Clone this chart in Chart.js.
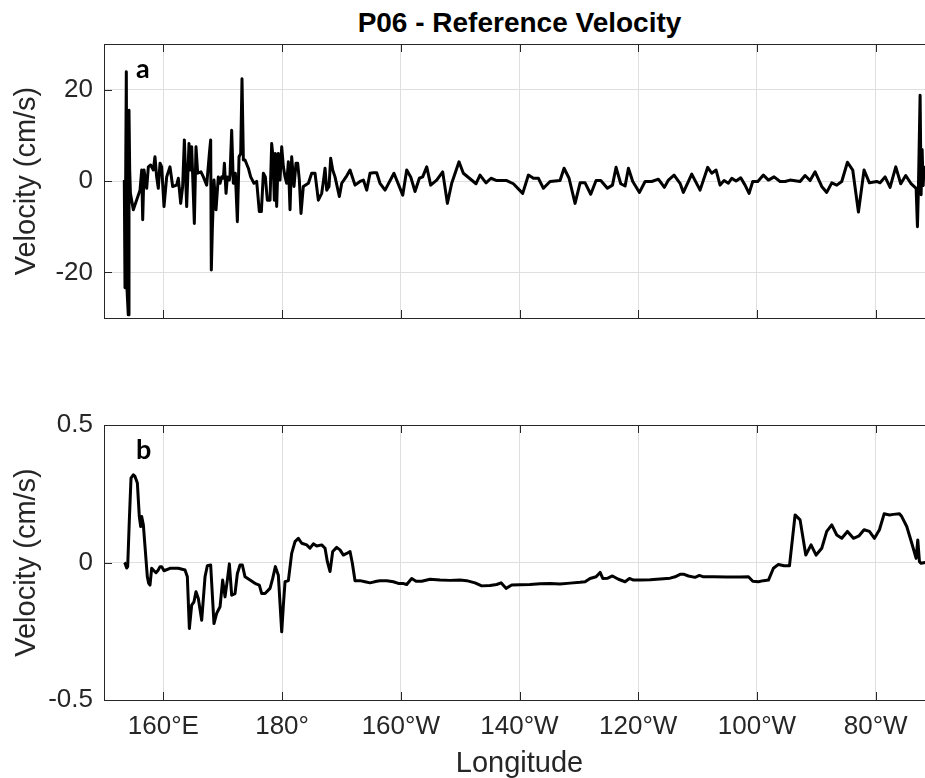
<!DOCTYPE html>
<html>
<head>
<meta charset="UTF-8" />
<script src="https://cdn.jsdelivr.net/npm/chart.js@4"></script>
<style>
  html, body { margin: 0; padding: 0; background: #fff; overflow: hidden; width: 925px; height: 778px; }
  #title {
    position: absolute; left: 104px; width: 831px; top: 8px;
    text-align: center; font: bold 28px "Liberation Sans", Arial, sans-serif;
    line-height: 30px; color: #000;
  }
  canvas { position: absolute; left: 0; }
  #chartA { top: 0; }
  #chartB { top: 340px; }
</style>
</head>
<body>
<div id="title">P06 - Reference Velocity</div>
<canvas id="chartA" width="940" height="330"></canvas>
<canvas id="chartB" width="940" height="438"></canvas>
<script>
// Longitude in degrees east (180 = dateline), velocity in cm/s
const lonA = [
  153.42, 153.54, 153.76, 153.88, 154.09, 154.21, 154.33, 154.45, 154.94, 156.07,
  156.35, 156.52, 156.74, 156.91, 157.19, 157.47, 157.86, 158.31, 158.59, 158.87,
  159.15, 159.44, 159.72, 160.11, 160.56, 161.12, 161.57, 162.24, 162.52, 162.92,
  163.25, 163.54, 163.93, 164.32, 164.49, 164.77, 165.22, 165.50, 165.78, 166.34,
  166.74, 167.30, 167.75, 167.97, 168.08, 168.25, 168.53, 168.87, 169.26, 169.55,
  169.83, 170.11, 170.28, 170.56, 170.78, 171.12, 171.23, 171.51, 171.79, 172.13,
  172.47, 172.75, 173.03, 173.25, 173.48, 173.76, 174.32, 174.71, 175.27, 175.72,
  176.17, 176.51, 176.85, 177.18, 177.52, 177.97, 178.25, 178.47, 178.70, 178.87,
  179.09, 179.37, 179.65, 179.94, 180.22, 180.50, 180.78, 181.06, 181.34, 181.62,
  182.01, 182.35, 182.63, 182.91, 183.19, 183.58, 184.43, 184.99, 185.55, 186.11,
  186.68, 186.96, 187.24, 187.52, 187.91, 188.19, 188.53, 188.92, 189.65, 190.05,
  190.78, 191.45, 192.29, 193.13, 193.70, 194.26, 194.82, 195.38, 195.94,
  196.50, 197.35, 198.85, 200.33, 201.00, 201.67, 202.40, 203.13, 203.69, 204.37,
  205.04, 206.05, 207.06, 207.85, 208.58, 209.81, 210.54, 211.56, 212.68, 213.35,
  214.36, 215.20, 216.16, 217.85, 218.97, 220.54, 221.50, 222.34, 223.18, 224.03,
  225.15, 226.83, 227.51, 228.35, 229.36, 230.21, 231.05, 232.00, 232.90, 233.69,
  234.81, 235.66, 236.27, 237.06, 237.79, 238.35, 239.08, 240.21, 241.16, 242.28,
  243.40, 244.41, 245.09, 246.04, 247.05,
  247.61, 249.02, 250.42, 251.71, 252.39, 253.12, 253.79, 254.47, 255.19, 255.76,
  256.49, 257.27, 258.00, 258.68, 259.29, 260.14, 261.09, 261.94, 262.89, 263.90,
  264.74, 265.59, 267.27, 268.11, 268.96, 269.80, 270.92, 271.76, 272.61, 273.45,
  274.29, 275.25, 276.14, 277.10, 278.05, 278.95, 280.19, 280.75, 281.59, 282.43,
  283.39, 284.23, 285.07, 285.92, 286.82, 287.04, 287.20, 287.49, 287.66, 287.83,
  288.00, 288.17, 288.33, 288.60, 288.90, 289.30, 289.70
];
const velA = [
  0.2, -23.4, 23.9, -23.8, -29.3, 15.5, 2.4, -2.7, -6.3, -2.0,
  2.4, -8.5, 2.4, 0.9, -1.6, 3.1, 3.5, 2.4, 5.3, 0.9,
  -1.6, 3.9, 3.1, -5.6, 0.9, 3.1, -1.2, -0.9, 0.6, -4.9,
  -1.2, 9.0, -5.6, 8.2, 2.4, 7.5, -9.3, 7.5, 1.7, 2.0,
  0.9, -0.9, 6.0, 9.0, -19.5, -10.7, 0.2, -6.3, 0.9, -0.5,
  0.9, 0.6, 3.9, -2.7, 0.9, 0.2, 1.3, 11.1, -0.5, 1.7,
  -8.9, 5.3, 6.0, 22.4, 4.6, 4.6, 2.8, 0.9, -0.5, -0.1,
  -6.7, -6.7, 1.7, 0.9, -4.2, -4.2, 8.2, 5.3, -4.2, 6.0,
  -5.6, 6.0, 0.2, 7.5, 3.1, 0.9, -0.5, 4.2, -6.3, 5.3,
  -1.2, 3.9, 3.9, 0.2, -7.1, -1.2, -0.5, 1.7, 1.7, -4.2,
  -2.7, -0.1, 2.8, -2.0, -1.2, 5.0, 2.4, 0.9, -3.4, -0.5,
  0.9, 2.4, -0.9, -0.1, 0.2, -2.0, 1.7, 1.8, 1.8,
  -0.5, -2.0, 1.7, -3.1, 2.4, 0.9, -2.3, 0.6, 0.9, 3.1,
  -0.9, 0.2, 2.0, -4.9, -0.5, 4.2, 1.7, 0.6, -0.6, 1.3,
  -0.4, 0.6, 0.1, 0.1, -0.6, -2.7, 1.3, 0.6, 0.6, -1.6,
  -0.1, 0.1, 2.8, 0.6, -4.9, -0.4, -0.4, -2.9, 0.1, 0.1,
  -1.6, -0.9, 3.0, -0.6, -1.1, 2.8, -0.1, -2.5, -0.1, -0.1,
  0.4, -1.4, 0.2, 1.3, -0.5,
  -2.5, 1.5, -2.0, 3.0, 1.7, 2.4, -0.9, 0.1, -0.5, 0.6,
  0.0, 0.7, -0.9, -2.7, -0.1, -0.1, 1.3, 0.2, 0.9, -0.1,
  -0.1, 0.2, -0.1, 1.2, 0.1, 2.0, -1.2, -2.5, -0.4, -0.9,
  -0.1, 4.1, 2.4, -6.8, 2.4, -0.4, -0.1, -0.4, 0.9, -1.4,
  3.1, -0.6, 1.2, -0.5, -1.6, -10.0, -2.0, 18.8, -3.0, 6.9,
  -1.0, 3.0, 1.0, 2.0, -1.0, 1.5, 0.5
];

const lonB = [
  153.43, 153.54, 153.82, 153.99, 154.27, 154.55, 154.94, 155.22, 155.62, 155.95,
  156.18, 156.35, 156.63, 156.91, 157.30, 157.53, 157.75, 158.03, 158.42, 158.76,
  159.15, 159.44, 159.72, 160.11, 161.12, 162.52, 163.65, 164.04, 164.38, 164.77,
  165.16, 165.50, 165.89, 166.46, 167.02, 167.41, 167.97, 168.53, 168.98, 169.55,
  169.99, 170.39, 170.78, 171.12, 171.51, 172.07, 172.47, 172.92, 173.31, 173.76,
  174.60, 175.61, 176.17, 176.57, 177.13, 177.97, 178.42, 178.87, 179.37, 179.94,
  180.22, 180.50, 181.06, 181.62, 182.18, 182.74, 183.31, 184.15, 184.71, 185.27,
  185.83, 186.68, 187.24, 187.63, 188.08, 188.53, 189.20, 189.76, 190.33, 190.89,
  191.45, 191.84, 192.29, 193.13, 193.98, 194.82, 195.94,
  196.50, 197.63, 198.75, 199.59, 200.32, 201.00, 201.84, 202.57, 203.52, 204.93,
  206.61, 208.29, 209.98, 211.10, 212.51, 213.63, 215.04, 216.16, 216.89, 217.73,
  218.69, 220.09, 221.77, 223.46, 225.15, 226.83, 228.52, 230.20, 231.05, 231.89,
  232.90, 233.58, 234.03, 234.87, 235.66, 236.67, 237.79, 238.52, 239.20, 240.32,
  242.01, 243.69, 245.37, 246.22,
  247.05, 247.73, 248.46, 249.58, 250.31, 250.98, 252.67, 254.92, 257.16, 258.57,
  259.30, 260.25, 261.09, 261.94, 262.78, 263.62, 264.58, 265.48, 266.43, 267.27,
  268.23, 269.12, 269.97, 270.92, 271.76, 272.61, 273.45, 274.29, 275.25, 276.26,
  277.21, 278.05, 278.95, 279.80, 280.64, 281.43, 282.33, 283.00, 284.01, 284.40,
  285.24, 286.09, 286.82, 287.10, 287.38, 287.66, 288.33, 289.00, 289.70
];
const velB = [
  0.000, -0.003, -0.020, -0.015, 0.155, 0.307, 0.319, 0.313, 0.289, 0.167,
  0.131, 0.167, 0.137, 0.058, -0.052, -0.076, -0.082, -0.021, -0.030, -0.037,
  -0.027, -0.015, -0.015, -0.030, -0.021, -0.021, -0.027, -0.052, -0.240, -0.155,
  -0.143, -0.106, -0.131, -0.210, -0.052, -0.012, -0.009, -0.222, -0.185, -0.161,
  -0.064, -0.125, -0.064, -0.005, -0.119, -0.113, -0.040, -0.009, -0.009, -0.052,
  -0.064, -0.078, -0.082, -0.113, -0.113, -0.094, -0.058, -0.015, -0.046, -0.252,
  -0.155, -0.070, -0.066, 0.033, 0.076, 0.088, 0.070, 0.064, 0.052, 0.068,
  0.060, 0.064, 0.052, 0.003, -0.033, 0.040, 0.055, 0.046, 0.027, 0.033,
  0.040, -0.003, -0.066, -0.066, -0.070, -0.074, -0.068,
  -0.066, -0.066, -0.070, -0.076, -0.076, -0.080, -0.058, -0.068, -0.068, -0.061,
  -0.064, -0.065, -0.064, -0.066, -0.074, -0.085, -0.084, -0.080, -0.074, -0.094,
  -0.082, -0.081, -0.080, -0.077, -0.076, -0.078, -0.075, -0.072, -0.070, -0.058,
  -0.052, -0.036, -0.058, -0.057, -0.049, -0.061, -0.070, -0.058, -0.064, -0.064,
  -0.063, -0.060, -0.057, -0.052,
  -0.043, -0.043, -0.049, -0.054, -0.047, -0.052, -0.052, -0.053, -0.053, -0.052,
  -0.068, -0.070, -0.066, -0.064, -0.021, -0.007, -0.012, -0.012, 0.173, 0.155,
  0.027, 0.064, 0.027, 0.052, 0.113, 0.137, 0.100, 0.088, 0.113, 0.088,
  0.097, 0.119, 0.113, 0.088, 0.119, 0.177, 0.173, 0.175, 0.177, 0.167,
  0.131, 0.070, 0.015, 0.082, 0.003, -0.003, 0.000, 0.000, 0.000
];

const xTicks = [160, 180, 200, 220, 240, 260, 280];
const yTicksA = [-20, 0, 20];
const yTicksB = [-0.5, 0, 0.5];

const FONT = '"Liberation Sans", Arial, sans-serif';
const INK = '#262626';

function lonLabel(v) {
  if (v === 180) return '180°';
  return v < 180 ? `${v}°E` : `${360 - v}°W`;
}

// MATLAB-style box with inward ticks, plus the panel letter
const boxPlugin = {
  id: 'box',
  afterDraw(chart, args, opts) {
    const { ctx, chartArea: a, scales: { x, y } } = chart;
    const len = 8;
    ctx.save();
    ctx.strokeStyle = INK;
    ctx.lineWidth = 1;
    ctx.strokeRect(a.left + 0.5, a.top + 0.5, a.right - a.left, a.bottom - a.top);
    ctx.beginPath();
    x.ticks.forEach((t) => {
      const px = Math.round(x.getPixelForValue(t.value)) + 0.5;
      ctx.moveTo(px, a.bottom); ctx.lineTo(px, a.bottom - len);
      ctx.moveTo(px, a.top); ctx.lineTo(px, a.top + len);
    });
    y.ticks.forEach((t) => {
      const py = Math.round(y.getPixelForValue(t.value)) + 0.5;
      ctx.moveTo(a.left, py); ctx.lineTo(a.left + len, py);
      ctx.moveTo(a.right, py); ctx.lineTo(a.right - len, py);
    });
    ctx.stroke();
    if (opts.label) {
      ctx.fillStyle = '#000';
      ctx.font = 'bold 27px Lato, "Open Sans", sans-serif';
      ctx.textBaseline = 'alphabetic';
      ctx.fillText(opts.label, a.left + 32, a.top + 34);
    }
    ctx.restore();
  },
};

function makeChart(id, lons, vels, opt) {
  return new Chart(document.getElementById(id), {
    type: 'line',
    data: {
      datasets: [{
        data: lons.map((lon, i) => ({ x: lon, y: vels[i] })),
        borderColor: '#000',
        borderWidth: 3,
        borderJoinStyle: 'round',
        pointRadius: 0,
        tension: 0,
        fill: false,
      }],
    },
    options: {
      responsive: false,
      animation: false,
      layout: { padding: { top: opt.padTop, right: 5, left: 0, bottom: 0 } },
      scales: {
        x: {
          type: 'linear',
          min: 150,
          max: 290,
          afterBuildTicks: (s) => { s.ticks = xTicks.map((v) => ({ value: v })); },
          afterFit: (s) => {
            s.height = opt.xHeight;
            s.paddingLeft = 0; s.paddingRight = 0;
          },
          grid: { color: '#dfdfdf', drawTicks: false },
          border: { display: false },
          ticks: {
            display: opt.showX,
            padding: 11,
            color: INK,
            font: { family: FONT, size: 26 },
            maxRotation: 0,
            callback: (v) => lonLabel(v),
          },
          title: {
            display: opt.showX,
            text: 'Longitude',
            color: INK,
            font: { family: FONT, size: 29, lineHeight: 1 },
            padding: { top: 0, bottom: 0 },
          },
        },
        y: {
          min: opt.yMin,
          max: opt.yMax,
          afterBuildTicks: (s) => { s.ticks = opt.yTicks.map((v) => ({ value: v })); },
          afterFit: (s) => {
            s.width = 104;
            // keep the tick labels from pushing the plot area around
            s.paddingTop = 0; s.paddingBottom = 0;
          },
          grid: { color: '#dfdfdf', drawTicks: false },
          border: { display: false },
          ticks: {
            padding: 11,
            color: INK,
            font: { family: FONT, size: 26 },
            callback: (v) => String(v),
          },
          title: {
            display: true,
            text: 'Velocity (cm/s)',
            color: INK,
            font: { family: FONT, size: 29, lineHeight: 1 },
            padding: { top: 12, bottom: 0 },
          },
        },
      },
      plugins: {
        legend: { display: false },
        tooltip: { enabled: false },
        box: { label: opt.label },
      },
    },
    plugins: [boxPlugin],
  });
}

makeChart('chartA', lonA, velA, {
  padTop: 44, xHeight: 12, showX: false,
  yMin: -30, yMax: 30, yTicks: yTicksA, label: 'a',
});
makeChart('chartB', lonB, velB, {
  padTop: 85, xHeight: 78, showX: true,
  yMin: -0.5, yMax: 0.5, yTicks: yTicksB, label: 'b',
});
</script>
</body>
</html>
